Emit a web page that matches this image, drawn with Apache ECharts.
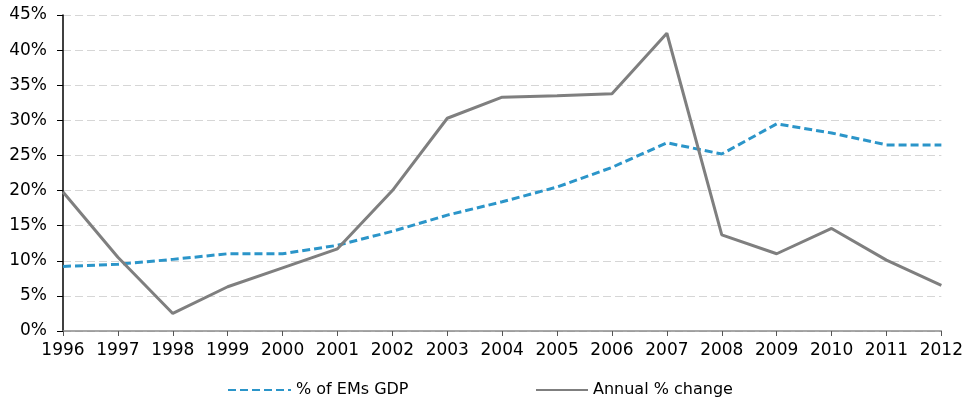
<!DOCTYPE html>
<html>
<head>
<meta charset="utf-8">
<script src="https://cdn.jsdelivr.net/npm/echarts@6/dist/echarts.min.js"></script>
<style>
  html, body { margin: 0; padding: 0; background: #fff; }
  #main { width: 966px; height: 399px; }
</style>
</head>
<body>
<div id="main"></div>
<script>
// data
var years = ['1996', '1997', '1998', '1999', '2000', '2001', '2002', '2003', '2004',
             '2005', '2006', '2007', '2008', '2009', '2010', '2011', '2012'];
var shareOfEMsGDP = [9.2, 9.5, 10.2, 11.0, 11.0, 12.2, 14.2, 16.5, 18.4,
                     20.5, 23.3, 26.8, 25.2, 29.5, 28.2, 26.5, 26.5];
var annualChange = [19.8, 10.5, 2.5, 6.3, 9.0, 11.7, 20.0, 30.3, 33.3,
                    33.5, 33.8, 42.4, 13.7, 11.0, 14.6, 10.1, 6.5];
var yTicks = [0, 5, 10, 15, 20, 25, 30, 35, 40, 45];

var font = 'DejaVu Sans';
var chart = echarts.init(document.getElementById('main'));

chart.setOption({
  animation: false,
  textStyle: { fontFamily: font },
  grid: { left: 63, right: 23, top: 15, bottom: 68, containLabel: false },
  legend: [
    {
      data: ['% of EMs GDP'],
      left: 222, top: 377,
      itemWidth: 63, itemHeight: 14, itemGap: 5,
      itemStyle: { opacity: 0 },
      textStyle: { fontFamily: font, fontSize: 16, color: '#000' }
    },
    {
      data: ['Annual % change'],
      left: 530, top: 377,
      itemWidth: 52, itemHeight: 14, itemGap: 5,
      itemStyle: { opacity: 0 },
      textStyle: { fontFamily: font, fontSize: 16, color: '#000' }
    }
  ],
  xAxis: {
    type: 'category',
    data: years,
    boundaryGap: false,
    axisLine: { lineStyle: { color: '#8a8a8a', width: 1.5 } },
    axisTick: { show: true, length: 5, lineStyle: { color: '#555' } },
    axisLabel: { fontSize: 17, color: '#000', margin: 11, interval: 0 },
    splitLine: { show: false }
  },
  yAxis: {
    type: 'value',
    min: yTicks[0],
    max: yTicks[yTicks.length - 1],
    interval: 5,
    axisLine: { show: true, lineStyle: { color: '#000', width: 1.5 } },
    axisTick: { show: true, length: 6, lineStyle: { color: '#000' } },
    axisLabel: { fontSize: 17, color: '#000', margin: 16, formatter: '{value}%' },
    splitLine: { show: true, lineStyle: { color: '#d6d6d6', type: [8, 4], width: 1 } }
  },
  series: [
    {
      name: '% of EMs GDP',
      type: 'line',
      data: shareOfEMsGDP,
      symbol: 'none',
      lineStyle: { color: '#2b95c9', width: 3, type: [8, 4] },
      itemStyle: { color: '#2b95c9' }
    },
    {
      name: 'Annual % change',
      type: 'line',
      data: annualChange,
      symbol: 'none',
      lineStyle: { color: '#7f7f7f', width: 3 },
      itemStyle: { color: '#7f7f7f' }
    }
  ]
});
</script>
</body>
</html>
